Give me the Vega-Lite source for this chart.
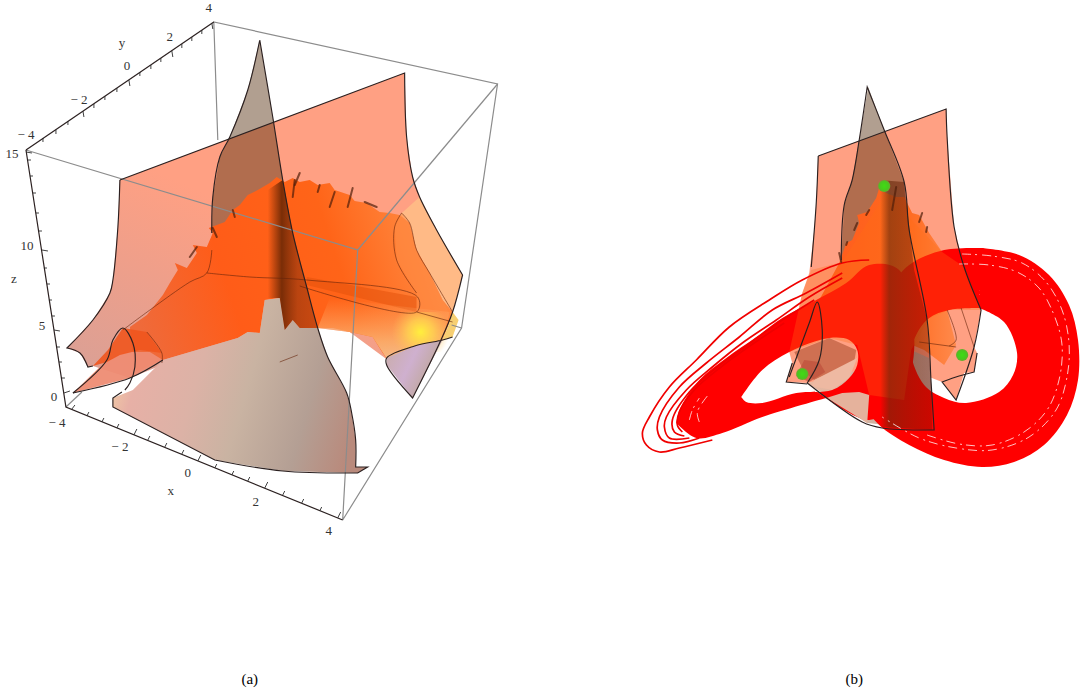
{"$schema":"https://vega.github.io/schema/vega-lite/v6.json","width":1080,"height":696,"autosize":{"type":"fit","contains":"padding"},"padding":0,"background":"white","view":{"stroke":null},
"datasets":{
"polys":[
{"p":"a_sal","i":0,"x":120,"y":180},{"p":"a_sal","i":1,"x":405,"y":73},{"p":"a_sal","i":2,"x":407,"y":137},{"p":"a_sal","i":3,"x":413,"y":177},{"p":"a_sal","i":4,"x":420,"y":197},{"p":"a_sal","i":5,"x":437,"y":230},{"p":"a_sal","i":6,"x":463,"y":275},{"p":"a_sal","i":7,"x":453,"y":312},{"p":"a_sal","i":8,"x":440,"y":343},{"p":"a_sal","i":9,"x":388,"y":360},{"p":"a_sal","i":10,"x":350,"y":332},{"p":"a_sal","i":11,"x":318,"y":328},{"p":"a_sal","i":12,"x":200,"y":350},{"p":"a_sal","i":13,"x":130,"y":378},{"p":"a_sal","i":14,"x":93,"y":366},{"p":"a_sal","i":15,"x":88,"y":367},{"p":"a_sal","i":16,"x":80,"y":353},{"p":"a_sal","i":17,"x":67,"y":348},{"p":"a_sal","i":18,"x":93,"y":320},{"p":"a_sal","i":19,"x":110,"y":293},{"p":"a_sal","i":20,"x":113,"y":280},{"p":"a_sal","i":21,"x":118,"y":227},
{"p":"a_tip","i":0,"x":260,"y":40},{"p":"a_tip","i":1,"x":273,"y":117},{"p":"a_tip","i":2,"x":283,"y":180},{"p":"a_tip","i":3,"x":288,"y":240},{"p":"a_tip","i":4,"x":240,"y":240},{"p":"a_tip","i":5,"x":212,"y":233},{"p":"a_tip","i":6,"x":213,"y":197},{"p":"a_tip","i":7,"x":220,"y":157},{"p":"a_tip","i":8,"x":230,"y":137},{"p":"a_tip","i":9,"x":248,"y":90},
{"p":"a_peach","i":0,"x":400,"y":215},{"p":"a_peach","i":1,"x":420,"y":197},{"p":"a_peach","i":2,"x":437,"y":230},{"p":"a_peach","i":3,"x":463,"y":275},{"p":"a_peach","i":4,"x":453,"y":312},{"p":"a_peach","i":5,"x":443,"y":300},{"p":"a_peach","i":6,"x":430,"y":273},{"p":"a_peach","i":7,"x":417,"y":250},{"p":"a_peach","i":8,"x":410,"y":223},
{"p":"a_or","i":0,"x":130,"y":327},{"p":"a_or","i":1,"x":147,"y":315},{"p":"a_or","i":2,"x":163,"y":295},{"p":"a_or","i":3,"x":170,"y":283},{"p":"a_or","i":4,"x":178,"y":270},{"p":"a_or","i":5,"x":175,"y":263},{"p":"a_or","i":6,"x":187,"y":268},{"p":"a_or","i":7,"x":197,"y":253},{"p":"a_or","i":8,"x":193,"y":245},{"p":"a_or","i":9,"x":207,"y":247},{"p":"a_or","i":10,"x":213,"y":233},{"p":"a_or","i":11,"x":209,"y":228},{"p":"a_or","i":12,"x":225,"y":222},{"p":"a_or","i":13,"x":233,"y":210},{"p":"a_or","i":14,"x":240,"y":205},{"p":"a_or","i":15,"x":248,"y":195},{"p":"a_or","i":16,"x":258,"y":190},{"p":"a_or","i":17,"x":270,"y":183},{"p":"a_or","i":18,"x":277,"y":177},{"p":"a_or","i":19,"x":285,"y":182},{"p":"a_or","i":20,"x":293,"y":178},{"p":"a_or","i":21,"x":300,"y":182},{"p":"a_or","i":22,"x":310,"y":180},{"p":"a_or","i":23,"x":318,"y":185},{"p":"a_or","i":24,"x":330,"y":183},{"p":"a_or","i":25,"x":335,"y":190},{"p":"a_or","i":26,"x":350,"y":195},{"p":"a_or","i":27,"x":355,"y":201},{"p":"a_or","i":28,"x":367,"y":203},{"p":"a_or","i":29,"x":380,"y":212},{"p":"a_or","i":30,"x":390,"y":213},{"p":"a_or","i":31,"x":400,"y":215},{"p":"a_or","i":32,"x":410,"y":223},{"p":"a_or","i":33,"x":417,"y":250},{"p":"a_or","i":34,"x":430,"y":273},{"p":"a_or","i":35,"x":443,"y":300},{"p":"a_or","i":36,"x":453,"y":312},{"p":"a_or","i":37,"x":449,"y":325},{"p":"a_or","i":38,"x":443,"y":340},{"p":"a_or","i":39,"x":420,"y":345},{"p":"a_or","i":40,"x":400,"y":350},{"p":"a_or","i":41,"x":388,"y":360},{"p":"a_or","i":42,"x":383,"y":353},{"p":"a_or","i":43,"x":373,"y":337},{"p":"a_or","i":44,"x":350,"y":332},{"p":"a_or","i":45,"x":333,"y":328},{"p":"a_or","i":46,"x":318,"y":328},{"p":"a_or","i":47,"x":300,"y":328},{"p":"a_or","i":48,"x":293,"y":320},{"p":"a_or","i":49,"x":285,"y":330},{"p":"a_or","i":50,"x":280,"y":298},{"p":"a_or","i":51,"x":265,"y":300},{"p":"a_or","i":52,"x":260,"y":333},{"p":"a_or","i":53,"x":248,"y":332},{"p":"a_or","i":54,"x":238,"y":338},{"p":"a_or","i":55,"x":163,"y":360},{"p":"a_or","i":56,"x":135,"y":372},
{"p":"a_lobe","i":0,"x":73,"y":393},{"p":"a_lobe","i":1,"x":107,"y":360},{"p":"a_lobe","i":2,"x":125,"y":352},{"p":"a_lobe","i":3,"x":150,"y":352},{"p":"a_lobe","i":4,"x":163,"y":360},{"p":"a_lobe","i":5,"x":130,"y":378},
{"p":"a_lobe2","i":0,"x":93,"y":366},{"p":"a_lobe2","i":1,"x":108,"y":350},{"p":"a_lobe2","i":2,"x":123,"y":328},{"p":"a_lobe2","i":3,"x":147,"y":332},{"p":"a_lobe2","i":4,"x":162,"y":353},{"p":"a_lobe2","i":5,"x":140,"y":350},{"p":"a_lobe2","i":6,"x":120,"y":355},{"p":"a_lobe2","i":7,"x":107,"y":362},
{"p":"a_band","i":0,"x":307,"y":277},{"p":"a_band","i":1,"x":417,"y":297},{"p":"a_band","i":2,"x":417,"y":312},{"p":"a_band","i":3,"x":307,"y":285},
{"p":"a_light","i":0,"x":402,"y":213},{"p":"a_light","i":1,"x":395,"y":227},{"p":"a_light","i":2,"x":397,"y":260},{"p":"a_light","i":3,"x":417,"y":293},{"p":"a_light","i":4,"x":417,"y":312},{"p":"a_light","i":5,"x":453,"y":320},{"p":"a_light","i":6,"x":443,"y":300},{"p":"a_light","i":7,"x":430,"y":273},{"p":"a_light","i":8,"x":417,"y":250},{"p":"a_light","i":9,"x":410,"y":223},
{"p":"a_fade","i":0,"x":318,"y":328},{"p":"a_fade","i":1,"x":330,"y":298},{"p":"a_fade","i":2,"x":450,"y":312},{"p":"a_fade","i":3,"x":443,"y":340},{"p":"a_fade","i":4,"x":388,"y":360},{"p":"a_fade","i":5,"x":373,"y":337},{"p":"a_fade","i":6,"x":350,"y":332},
{"p":"a_yel","i":0,"x":392,"y":312},{"p":"a_yel","i":1,"x":450,"y":312},{"p":"a_yel","i":2,"x":450,"y":352},{"p":"a_yel","i":3,"x":392,"y":352},
{"p":"a_corner","i":0,"x":453,"y":312},{"p":"a_corner","i":1,"x":459,"y":320},{"p":"a_corner","i":2,"x":453,"y":337},{"p":"a_corner","i":3,"x":443,"y":340},{"p":"a_corner","i":4,"x":449,"y":325},
{"p":"a_tri","i":0,"x":387,"y":358},{"p":"a_tri","i":1,"x":387,"y":365},{"p":"a_tri","i":2,"x":413,"y":398},{"p":"a_tri","i":3,"x":443,"y":340},{"p":"a_tri","i":4,"x":415,"y":346},
{"p":"a_bot","i":0,"x":133,"y":390},{"p":"a_bot","i":1,"x":113,"y":398},{"p":"a_bot","i":2,"x":113,"y":407},{"p":"a_bot","i":3,"x":215,"y":460},{"p":"a_bot","i":4,"x":283,"y":471},{"p":"a_bot","i":5,"x":358,"y":473},{"p":"a_bot","i":6,"x":368,"y":467},{"p":"a_bot","i":7,"x":356,"y":467},{"p":"a_bot","i":8,"x":356,"y":440},{"p":"a_bot","i":9,"x":352,"y":413},{"p":"a_bot","i":10,"x":347,"y":393},{"p":"a_bot","i":11,"x":328,"y":357},{"p":"a_bot","i":12,"x":318,"y":328},{"p":"a_bot","i":13,"x":300,"y":328},{"p":"a_bot","i":14,"x":293,"y":320},{"p":"a_bot","i":15,"x":285,"y":330},{"p":"a_bot","i":16,"x":280,"y":298},{"p":"a_bot","i":17,"x":265,"y":300},{"p":"a_bot","i":18,"x":260,"y":333},{"p":"a_bot","i":19,"x":248,"y":332},{"p":"a_bot","i":20,"x":238,"y":338},{"p":"a_bot","i":21,"x":163,"y":360},
{"p":"a_dark","i":0,"x":283,"y":180},{"p":"a_dark","i":1,"x":293,"y":233},{"p":"a_dark","i":2,"x":307,"y":287},{"p":"a_dark","i":3,"x":318,"y":328},{"p":"a_dark","i":4,"x":300,"y":328},{"p":"a_dark","i":5,"x":293,"y":320},{"p":"a_dark","i":6,"x":285,"y":330},{"p":"a_dark","i":7,"x":280,"y":298},{"p":"a_dark","i":8,"x":268,"y":298},{"p":"a_dark","i":9,"x":268,"y":190},
{"p":"b_sal","i":0,"x":819,"y":156},{"p":"b_sal","i":1,"x":947,"y":109},{"p":"b_sal","i":2,"x":948,"y":137},{"p":"b_sal","i":3,"x":955,"y":227},{"p":"b_sal","i":4,"x":965,"y":267},{"p":"b_sal","i":5,"x":982,"y":310},{"p":"b_sal","i":6,"x":975,"y":347},{"p":"b_sal","i":7,"x":978,"y":353},{"p":"b_sal","i":8,"x":975,"y":372},{"p":"b_sal","i":9,"x":965,"y":373},{"p":"b_sal","i":10,"x":957,"y":400},{"p":"b_sal","i":11,"x":943,"y":382},{"p":"b_sal","i":12,"x":925,"y":375},{"p":"b_sal","i":13,"x":850,"y":378},{"p":"b_sal","i":14,"x":808,"y":383},{"p":"b_sal","i":15,"x":787,"y":382},{"p":"b_sal","i":16,"x":793,"y":363},{"p":"b_sal","i":17,"x":790,"y":352},{"p":"b_sal","i":18,"x":803,"y":293},{"p":"b_sal","i":19,"x":810,"y":273},{"p":"b_sal","i":20,"x":815,"y":230},{"p":"b_sal","i":21,"x":817,"y":203},
{"p":"b_tip","i":0,"x":869,"y":87},{"p":"b_tip","i":1,"x":885,"y":130},{"p":"b_tip","i":2,"x":905,"y":182},{"p":"b_tip","i":3,"x":910,"y":260},{"p":"b_tip","i":4,"x":842,"y":260},{"p":"b_tip","i":5,"x":845,"y":205},{"p":"b_tip","i":6,"x":853,"y":180},{"p":"b_tip","i":7,"x":860,"y":140},
{"p":"b_or","i":0,"x":840,"y":263},{"p":"b_or","i":1,"x":847,"y":243},{"p":"b_or","i":2,"x":853,"y":240},{"p":"b_or","i":3,"x":860,"y":223},{"p":"b_or","i":4,"x":858,"y":215},{"p":"b_or","i":5,"x":868,"y":212},{"p":"b_or","i":6,"x":877,"y":198},{"p":"b_or","i":7,"x":880,"y":188},{"p":"b_or","i":8,"x":887,"y":193},{"p":"b_or","i":9,"x":897,"y":197},{"p":"b_or","i":10,"x":905,"y":197},{"p":"b_or","i":11,"x":913,"y":213},{"p":"b_or","i":12,"x":920,"y":215},{"p":"b_or","i":13,"x":930,"y":233},{"p":"b_or","i":14,"x":943,"y":252},{"p":"b_or","i":15,"x":948,"y":310},{"p":"b_or","i":16,"x":957,"y":345},{"p":"b_or","i":17,"x":945,"y":365},{"p":"b_or","i":18,"x":925,"y":350},{"p":"b_or","i":19,"x":913,"y":345},{"p":"b_or","i":20,"x":860,"y":345},{"p":"b_or","i":21,"x":820,"y":300},
{"p":"b_bot","i":0,"x":808,"y":383},{"p":"b_bot","i":1,"x":868,"y":423},{"p":"b_bot","i":2,"x":933,"y":430},{"p":"b_bot","i":3,"x":932,"y":383},{"p":"b_bot","i":4,"x":930,"y":358},{"p":"b_bot","i":5,"x":912,"y":350},{"p":"b_bot","i":6,"x":860,"y":370},
{"p":"b_lh","i":0,"x":795,"y":352},{"p":"b_lh","i":1,"x":830,"y":338},{"p":"b_lh","i":2,"x":857,"y":350},{"p":"b_lh","i":3,"x":855,"y":362},{"p":"b_lh","i":4,"x":815,"y":380},{"p":"b_lh","i":5,"x":805,"y":372},
{"p":"b_pale","i":0,"x":815,"y":380},{"p":"b_pale","i":1,"x":858,"y":358},{"p":"b_pale","i":2,"x":850,"y":378},{"p":"b_pale","i":3,"x":833,"y":390},{"p":"b_pale","i":4,"x":812,"y":386},
{"p":"b_lobe","i":0,"x":797,"y":376},{"p":"b_lobe","i":1,"x":805,"y":360},{"p":"b_lobe","i":2,"x":820,"y":362},{"p":"b_lobe","i":3,"x":826,"y":372},{"p":"b_lobe","i":4,"x":810,"y":382},
{"p":"b_wing","i":0,"x":677,"y":423},{"p":"b_wing","i":1,"x":697,"y":438},{"p":"b_wing","i":2,"x":723,"y":433},{"p":"b_wing","i":3,"x":763,"y":417},{"p":"b_wing","i":4,"x":827,"y":398},{"p":"b_wing","i":4.5,"x":827,"y":398},{"p":"b_wing","i":5,"x":870,"y":420},{"p":"b_wing","i":6,"x":900,"y":400},{"p":"b_wing","i":7,"x":915,"y":350},{"p":"b_wing","i":8,"x":900,"y":270},{"p":"b_wing","i":9,"x":870,"y":265},{"p":"b_wing","i":10,"x":847,"y":283},{"p":"b_wing","i":11,"x":817,"y":300},{"p":"b_wing","i":12,"x":783,"y":318},{"p":"b_wing","i":13,"x":757,"y":337},{"p":"b_wing","i":14,"x":727,"y":358},{"p":"b_wing","i":15,"x":700,"y":380},{"p":"b_wing","i":16,"x":680,"y":410},{"p":"b_wing","i":17,"x":677,"y":423},{"p":"b_wing","i":17.5,"x":677,"y":423},{"p":"b_wing","i":18,"x":742,"y":397},{"p":"b_wing","i":18.5,"x":742,"y":397},{"p":"b_wing","i":19,"x":763,"y":370},{"p":"b_wing","i":20,"x":790,"y":352},{"p":"b_wing","i":21,"x":830,"y":338},{"p":"b_wing","i":22,"x":850,"y":340},{"p":"b_wing","i":23,"x":858,"y":350},{"p":"b_wing","i":24,"x":858,"y":365},{"p":"b_wing","i":25,"x":850,"y":378},{"p":"b_wing","i":26,"x":833,"y":390},{"p":"b_wing","i":27,"x":797,"y":393},{"p":"b_wing","i":28,"x":763,"y":403},{"p":"b_wing","i":29,"x":747,"y":402},{"p":"b_wing","i":30,"x":742,"y":397},{"p":"b_wing","i":30.5,"x":742,"y":397},{"p":"b_wing","i":31,"x":677,"y":423},
{"p":"b_ring","i":0,"x":983,"y":248},{"p":"b_ring","i":1,"x":1020,"y":255},{"p":"b_ring","i":2,"x":1050,"y":275},{"p":"b_ring","i":3,"x":1070,"y":305},{"p":"b_ring","i":4,"x":1079,"y":340},{"p":"b_ring","i":5,"x":1079,"y":380},{"p":"b_ring","i":6,"x":1068,"y":415},{"p":"b_ring","i":7,"x":1045,"y":445},{"p":"b_ring","i":8,"x":1015,"y":462},{"p":"b_ring","i":9,"x":983,"y":467},{"p":"b_ring","i":10,"x":945,"y":460},{"p":"b_ring","i":11,"x":910,"y":445},{"p":"b_ring","i":12,"x":880,"y":425},{"p":"b_ring","i":13,"x":865,"y":405},{"p":"b_ring","i":14,"x":860,"y":385},{"p":"b_ring","i":15,"x":862,"y":350},{"p":"b_ring","i":16,"x":870,"y":320},{"p":"b_ring","i":17,"x":887,"y":293},{"p":"b_ring","i":18,"x":910,"y":265},{"p":"b_ring","i":19,"x":945,"y":250},{"p":"b_ring","i":20,"x":983,"y":248},{"p":"b_ring","i":20.5,"x":983,"y":248},{"p":"b_ring","i":21,"x":980,"y":308},{"p":"b_ring","i":21.5,"x":980,"y":308},{"p":"b_ring","i":22,"x":950,"y":310},{"p":"b_ring","i":23,"x":930,"y":318},{"p":"b_ring","i":24,"x":917,"y":335},{"p":"b_ring","i":25,"x":912,"y":353},{"p":"b_ring","i":26,"x":925,"y":385},{"p":"b_ring","i":27,"x":945,"y":398},{"p":"b_ring","i":28,"x":967,"y":403},{"p":"b_ring","i":29,"x":1000,"y":392},{"p":"b_ring","i":30,"x":1014,"y":375},{"p":"b_ring","i":31,"x":1018,"y":353},{"p":"b_ring","i":32,"x":1005,"y":322},{"p":"b_ring","i":33,"x":980,"y":308},{"p":"b_ring","i":33.5,"x":980,"y":308},{"p":"b_ring","i":34,"x":983,"y":248},
{"p":"b_tint","i":0,"x":812,"y":270},{"p":"b_tint","i":1,"x":843,"y":262},{"p":"b_tint","i":2,"x":887,"y":193},{"p":"b_tint","i":3,"x":943,"y":252},{"p":"b_tint","i":4,"x":965,"y":267},{"p":"b_tint","i":5,"x":982,"y":310},{"p":"b_tint","i":6,"x":950,"y":310},{"p":"b_tint","i":7,"x":930,"y":318},{"p":"b_tint","i":8,"x":912,"y":350},{"p":"b_tint","i":9,"x":905,"y":400},{"p":"b_tint","i":10,"x":870,"y":395},{"p":"b_tint","i":11,"x":858,"y":345},{"p":"b_tint","i":12,"x":830,"y":338},{"p":"b_tint","i":13,"x":790,"y":352},{"p":"b_tint","i":14,"x":803,"y":293},
{"p":"b_front","i":0,"x":810,"y":387},{"p":"b_front","i":1,"x":868,"y":423},{"p":"b_front","i":2,"x":870,"y":395},{"p":"b_front","i":3,"x":860,"y":392},{"p":"b_front","i":4,"x":843,"y":393},{"p":"b_front","i":5,"x":827,"y":398},
{"p":"b_dark","i":0,"x":880,"y":180},{"p":"b_dark","i":1,"x":905,"y":182},{"p":"b_dark","i":2,"x":915,"y":270},{"p":"b_dark","i":3,"x":928,"y":320},{"p":"b_dark","i":4,"x":932,"y":383},{"p":"b_dark","i":5,"x":933,"y":430},{"p":"b_dark","i":6,"x":883,"y":427},{"p":"b_dark","i":7,"x":868,"y":423},{"p":"b_dark","i":8,"x":870,"y":395},{"p":"b_dark","i":9,"x":880,"y":340}
],
"black":[
{"p":"s1","i":0,"x":120,"y":180},{"p":"s1","i":1,"x":405,"y":73},{"p":"s1","i":1.5,"x":405,"y":73},{"p":"s1","i":2,"x":407,"y":137},{"p":"s1","i":3,"x":413,"y":177},{"p":"s1","i":4,"x":420,"y":197},{"p":"s1","i":5,"x":437,"y":230},{"p":"s1","i":6,"x":463,"y":275},{"p":"s1","i":6.5,"x":463,"y":275},{"p":"s1","i":7,"x":453,"y":312},{"p":"s1","i":8,"x":440,"y":343},{"p":"s1","i":9,"x":413,"y":398},{"p":"s1","i":9.5,"x":413,"y":398},{"p":"s1","i":10,"x":387,"y":365},{"p":"s1","i":11,"x":387,"y":358},{"p":"s1","i":12,"x":415,"y":346},{"p":"s1","i":13,"x":443,"y":340},{"p":"s1","i":14,"x":453,"y":337},
{"p":"s2","i":0,"x":120,"y":180},{"p":"s2","i":1,"x":118,"y":227},{"p":"s2","i":2,"x":113,"y":280},{"p":"s2","i":3,"x":110,"y":293},{"p":"s2","i":4,"x":93,"y":320},{"p":"s2","i":5,"x":67,"y":348},{"p":"s2","i":5.5,"x":67,"y":348},{"p":"s2","i":6,"x":80,"y":353},{"p":"s2","i":7,"x":88,"y":367},{"p":"s2","i":7.5,"x":88,"y":367},{"p":"s2","i":8,"x":93,"y":366},
{"p":"s3","i":0,"x":212,"y":233},{"p":"s3","i":1,"x":213,"y":197},{"p":"s3","i":2,"x":220,"y":157},{"p":"s3","i":3,"x":230,"y":137},{"p":"s3","i":4,"x":248,"y":90},{"p":"s3","i":5,"x":260,"y":40},{"p":"s3","i":5.5,"x":260,"y":40},{"p":"s3","i":6,"x":273,"y":117},{"p":"s3","i":7,"x":283,"y":180},{"p":"s3","i":8,"x":293,"y":233},{"p":"s3","i":9,"x":307,"y":287},{"p":"s3","i":10,"x":318,"y":328},{"p":"s3","i":11,"x":328,"y":357},{"p":"s3","i":12,"x":347,"y":393},{"p":"s3","i":13,"x":352,"y":413},{"p":"s3","i":14,"x":356,"y":440},{"p":"s3","i":15,"x":356,"y":467},{"p":"s3","i":15.5,"x":356,"y":467},{"p":"s3","i":16,"x":368,"y":467},{"p":"s3","i":16.5,"x":368,"y":467},{"p":"s3","i":17,"x":358,"y":473},{"p":"s3","i":17.5,"x":358,"y":473},{"p":"s3","i":18,"x":283,"y":471},{"p":"s3","i":19,"x":215,"y":460},{"p":"s3","i":19.5,"x":215,"y":460},{"p":"s3","i":20,"x":113,"y":407},{"p":"s3","i":20.5,"x":113,"y":407},{"p":"s3","i":21,"x":113,"y":398},{"p":"s3","i":21.5,"x":113,"y":398},{"p":"s3","i":22,"x":122,"y":392},
{"p":"s4","i":0,"x":73,"y":393},{"p":"s4","i":1,"x":107,"y":360},{"p":"s4","i":2,"x":113,"y":340},{"p":"s4","i":3,"x":123,"y":328},{"p":"s4","i":4,"x":133,"y":343},{"p":"s4","i":5,"x":135,"y":367},{"p":"s4","i":6,"x":130,"y":383},{"p":"s4","i":7,"x":125,"y":390},
{"p":"s5","i":0,"x":73,"y":393},{"p":"s5","i":1,"x":130,"y":378},{"p":"s5","i":2,"x":163,"y":360},
{"p":"b1","i":0,"x":819,"y":156},{"p":"b1","i":1,"x":947,"y":109},{"p":"b1","i":1.5,"x":947,"y":109},{"p":"b1","i":2,"x":948,"y":137},{"p":"b1","i":3,"x":955,"y":227},{"p":"b1","i":4,"x":965,"y":267},{"p":"b1","i":5,"x":982,"y":310},{"p":"b1","i":5.5,"x":982,"y":310},{"p":"b1","i":6,"x":975,"y":347},{"p":"b1","i":7,"x":957,"y":400},{"p":"b1","i":7.5,"x":957,"y":400},{"p":"b1","i":8,"x":943,"y":382},{"p":"b1","i":8.5,"x":943,"y":382},{"p":"b1","i":9,"x":960,"y":376},{"p":"b1","i":10,"x":975,"y":372},{"p":"b1","i":10.5,"x":975,"y":372},{"p":"b1","i":11,"x":978,"y":353},
{"p":"b2","i":0,"x":819,"y":156},{"p":"b2","i":1,"x":817,"y":203},{"p":"b2","i":2,"x":812,"y":267},
{"p":"b3","i":0,"x":842,"y":260},{"p":"b3","i":1,"x":845,"y":205},{"p":"b3","i":2,"x":853,"y":180},{"p":"b3","i":3,"x":860,"y":140},{"p":"b3","i":4,"x":868,"y":87},{"p":"b3","i":4.5,"x":868,"y":87},{"p":"b3","i":5,"x":885,"y":130},{"p":"b3","i":6,"x":905,"y":182},{"p":"b3","i":7,"x":910,"y":230},{"p":"b3","i":8,"x":928,"y":320},{"p":"b3","i":9,"x":932,"y":383},{"p":"b3","i":10,"x":935,"y":430},{"p":"b3","i":10.5,"x":935,"y":430},{"p":"b3","i":11,"x":883,"y":428},{"p":"b3","i":12,"x":863,"y":422},{"p":"b3","i":13,"x":808,"y":383},{"p":"b3","i":13.5,"x":808,"y":383},{"p":"b3","i":14,"x":820,"y":360},{"p":"b3","i":15,"x":823,"y":330},{"p":"b3","i":16,"x":818,"y":302},{"p":"b3","i":17,"x":810,"y":323},{"p":"b3","i":18,"x":790,"y":377},
{"p":"b4","i":0,"x":793,"y":363},{"p":"b4","i":1,"x":787,"y":382},{"p":"b4","i":1.5,"x":787,"y":382},{"p":"b4","i":2,"x":808,"y":384}
],
"axis":[
{"p":"a1","i":0,"x":26,"y":150},{"p":"a1","i":1,"x":66,"y":407},{"p":"a1","i":2,"x":343,"y":520},
{"p":"a2","i":0,"x":26,"y":150},{"p":"a2","i":1,"x":214,"y":22}
],
"box":[
{"p":"g1","i":0,"x":26,"y":150},{"p":"g1","i":1,"x":358,"y":250},{"p":"g1","i":2,"x":343,"y":520},{"p":"g1","i":3,"x":462,"y":328},{"p":"g1","i":4,"x":498,"y":84},{"p":"g1","i":5,"x":214,"y":22},{"p":"g1","i":6,"x":218,"y":140},
{"p":"g2","i":0,"x":358,"y":250},{"p":"g2","i":1,"x":498,"y":84},
{"p":"g3","i":0,"x":462,"y":328},{"p":"g3","i":1,"x":452,"y":325},
{"p":"g4","i":0,"x":66,"y":407},{"p":"g4","i":1,"x":82,"y":392}
],
"thin":[
{"p":"c1","i":0,"x":207,"y":273},{"p":"c1","i":1,"x":250,"y":277},{"p":"c1","i":2,"x":307,"y":280},{"p":"c1","i":3,"x":418,"y":297},{"p":"c1","i":4,"x":417,"y":312},{"p":"c1","i":5,"x":300,"y":286},
{"p":"c2","i":0,"x":212,"y":250},{"p":"c2","i":1,"x":207,"y":273},{"p":"c2","i":2,"x":190,"y":282},{"p":"c2","i":3,"x":150,"y":310},{"p":"c2","i":4,"x":123,"y":330},
{"p":"c3","i":0,"x":402,"y":213},{"p":"c3","i":1,"x":395,"y":227},{"p":"c3","i":2,"x":397,"y":260},{"p":"c3","i":3,"x":417,"y":293},
{"p":"c4","i":0,"x":402,"y":213},{"p":"c4","i":1,"x":410,"y":223},{"p":"c4","i":2,"x":417,"y":250},{"p":"c4","i":3,"x":430,"y":273},{"p":"c4","i":4,"x":453,"y":312},
{"p":"c5","i":0,"x":417,"y":312},{"p":"c5","i":1,"x":453,"y":322},
{"p":"c6","i":0,"x":147,"y":332},{"p":"c6","i":1,"x":162,"y":353},{"p":"c6","i":2,"x":162,"y":363},
{"p":"c7","i":0,"x":280,"y":362},{"p":"c7","i":1,"x":298,"y":355},
{"p":"c8","i":0,"x":948,"y":310},{"p":"c8","i":1,"x":957,"y":340},{"p":"c8","i":2,"x":950,"y":346},
{"p":"c9","i":0,"x":962,"y":308},{"p":"c9","i":1,"x":975,"y":347},
{"p":"c10","i":0,"x":920,"y":342},{"p":"c10","i":1,"x":957,"y":347}
],
"spike":[
{"p":"k1","i":0,"x":295,"y":180},{"p":"k1","i":1,"x":293,"y":197},
{"p":"k2","i":0,"x":300,"y":173},{"p":"k2","i":1,"x":295,"y":185},
{"p":"k3","i":0,"x":320,"y":185},{"p":"k3","i":1,"x":318,"y":192},
{"p":"k4","i":0,"x":335,"y":192},{"p":"k4","i":1,"x":330,"y":207},
{"p":"k5","i":0,"x":353,"y":188},{"p":"k5","i":1,"x":348,"y":207},
{"p":"k6","i":0,"x":365,"y":202},{"p":"k6","i":1,"x":377,"y":207},
{"p":"k7","i":0,"x":197,"y":247},{"p":"k7","i":1,"x":190,"y":257},
{"p":"k8","i":0,"x":213,"y":228},{"p":"k8","i":1,"x":217,"y":237},
{"p":"k9","i":0,"x":233,"y":210},{"p":"k9","i":1,"x":235,"y":217},
{"p":"m1","i":0,"x":897,"y":187},{"p":"m1","i":1,"x":893,"y":210},
{"p":"m2","i":0,"x":923,"y":213},{"p":"m2","i":1,"x":920,"y":222},
{"p":"m3","i":0,"x":928,"y":227},{"p":"m3","i":1,"x":927,"y":232},
{"p":"m4","i":0,"x":870,"y":210},{"p":"m4","i":1,"x":867,"y":215},
{"p":"m5","i":0,"x":858,"y":223},{"p":"m5","i":1,"x":855,"y":230},
{"p":"m6","i":0,"x":848,"y":242},{"p":"m6","i":1,"x":847,"y":245},
{"p":"m7","i":0,"x":840,"y":253},{"p":"m7","i":1,"x":842,"y":262}
],
"red":[
{"p":"L1","i":0,"x":713,"y":440},{"p":"L1","i":1,"x":680,"y":448},{"p":"L1","i":2,"x":660,"y":452},{"p":"L1","i":3,"x":647,"y":445},{"p":"L1","i":4,"x":643,"y":433},{"p":"L1","i":5,"x":650,"y":417},{"p":"L1","i":6,"x":670,"y":387},{"p":"L1","i":7,"x":697,"y":360},{"p":"L1","i":8,"x":730,"y":327},{"p":"L1","i":9,"x":770,"y":300},{"p":"L1","i":10,"x":803,"y":280},{"p":"L1","i":11,"x":843,"y":263},{"p":"L1","i":12,"x":870,"y":260},
{"p":"L2","i":0,"x":700,"y":438},{"p":"L2","i":1,"x":680,"y":443},{"p":"L2","i":2,"x":663,"y":440},{"p":"L2","i":3,"x":658,"y":430},{"p":"L2","i":4,"x":660,"y":417},{"p":"L2","i":5,"x":680,"y":387},{"p":"L2","i":6,"x":707,"y":363},{"p":"L2","i":7,"x":740,"y":337},{"p":"L2","i":8,"x":773,"y":310},{"p":"L2","i":9,"x":807,"y":293},{"p":"L2","i":10,"x":843,"y":273},
{"p":"L3","i":0,"x":690,"y":438},{"p":"L3","i":1,"x":670,"y":438},{"p":"L3","i":2,"x":665,"y":427},{"p":"L3","i":3,"x":667,"y":417},{"p":"L3","i":4,"x":687,"y":390},{"p":"L3","i":5,"x":713,"y":367},{"p":"L3","i":6,"x":743,"y":343},{"p":"L3","i":7,"x":777,"y":320},{"p":"L3","i":8,"x":810,"y":297},{"p":"L3","i":9,"x":843,"y":278},
{"p":"L4","i":0,"x":685,"y":436},{"p":"L4","i":1,"x":675,"y":432},{"p":"L4","i":2,"x":673,"y":420},{"p":"L4","i":3,"x":690,"y":392},{"p":"L4","i":4,"x":718,"y":367},{"p":"L4","i":5,"x":748,"y":345},{"p":"L4","i":6,"x":780,"y":322},{"p":"L4","i":7,"x":815,"y":300},
{"p":"L5","i":0,"x":683,"y":432},{"p":"L5","i":1,"x":678,"y":425},{"p":"L5","i":2,"x":680,"y":412},{"p":"L5","i":3,"x":695,"y":390},{"p":"L5","i":4,"x":723,"y":366},{"p":"L5","i":5,"x":752,"y":345},{"p":"L5","i":6,"x":785,"y":323}
],
"white":[
{"p":"w1","i":0,"x":963,"y":254},{"p":"w1","i":1,"x":993,"y":256},{"p":"w1","i":2,"x":1023,"y":263},{"p":"w1","i":3,"x":1047,"y":282},{"p":"w1","i":4,"x":1063,"y":310},{"p":"w1","i":5,"x":1070,"y":343},{"p":"w1","i":6,"x":1068,"y":377},{"p":"w1","i":7,"x":1057,"y":410},{"p":"w1","i":8,"x":1030,"y":437},{"p":"w1","i":9,"x":993,"y":450},{"p":"w1","i":10,"x":957,"y":448},{"p":"w1","i":11,"x":920,"y":438},{"p":"w1","i":12,"x":883,"y":417},
{"p":"w2","i":0,"x":960,"y":264},{"p":"w2","i":1,"x":990,"y":265},{"p":"w2","i":2,"x":1018,"y":272},{"p":"w2","i":3,"x":1040,"y":288},{"p":"w2","i":4,"x":1055,"y":315},{"p":"w2","i":5,"x":1063,"y":345},{"p":"w2","i":6,"x":1060,"y":380},{"p":"w2","i":7,"x":1048,"y":410},{"p":"w2","i":8,"x":1025,"y":432},{"p":"w2","i":9,"x":993,"y":445},{"p":"w2","i":10,"x":960,"y":444},{"p":"w2","i":11,"x":925,"y":434},
{"p":"w3","i":0,"x":690,"y":420},{"p":"w3","i":1,"x":693,"y":410},{"p":"w3","i":2,"x":700,"y":398},
{"p":"w4","i":0,"x":700,"y":422},{"p":"w4","i":1,"x":698,"y":412},{"p":"w4","i":2,"x":708,"y":396}
],
"ticks":[
{"x":26,"y":152,"x2":32,"y2":153},{"x":28,"y":160,"x2":31,"y2":160},{"x":30,"y":176,"x2":33,"y2":176},{"x":33,"y":193,"x2":36,"y2":193},{"x":36,"y":213,"x2":39,"y2":213},{"x":39,"y":231,"x2":42,"y2":231},{"x":42,"y":250,"x2":48,"y2":251},{"x":44,"y":268,"x2":47,"y2":268},{"x":47,"y":284,"x2":50,"y2":284},{"x":49,"y":300,"x2":52,"y2":300},{"x":52,"y":316,"x2":55,"y2":316},{"x":54,"y":330,"x2":60,"y2":331},{"x":57,"y":347,"x2":60,"y2":347},{"x":59,"y":362,"x2":62,"y2":362},{"x":62,"y":378,"x2":65,"y2":378},{"x":64,"y":393,"x2":70,"y2":391},
{"x":43,"y":138,"x2":43,"y2":142},{"x":56,"y":130,"x2":56,"y2":134},{"x":68,"y":121,"x2":68,"y2":125},{"x":83,"y":111,"x2":84,"y2":117},{"x":94,"y":104,"x2":94,"y2":108},{"x":105,"y":96,"x2":105,"y2":100},{"x":117,"y":88,"x2":117,"y2":92},{"x":129,"y":80,"x2":130,"y2":86},{"x":140,"y":72,"x2":140,"y2":76},{"x":151,"y":65,"x2":151,"y2":69},{"x":161,"y":58,"x2":161,"y2":62},{"x":172,"y":51,"x2":173,"y2":57},{"x":182,"y":44,"x2":182,"y2":48},{"x":192,"y":37,"x2":192,"y2":41},{"x":202,"y":30,"x2":202,"y2":34},{"x":212,"y":23,"x2":213,"y2":29},
{"x":72,"y":409,"x2":75,"y2":405},{"x":87,"y":416,"x2":89,"y2":412},{"x":102,"y":422,"x2":104,"y2":418},{"x":117,"y":428,"x2":119,"y2":424},{"x":134,"y":435,"x2":137,"y2":429},{"x":148,"y":440,"x2":150,"y2":436},{"x":165,"y":447,"x2":167,"y2":443},{"x":182,"y":454,"x2":184,"y2":450},{"x":198,"y":461,"x2":201,"y2":455},{"x":215,"y":468,"x2":217,"y2":464},{"x":232,"y":475,"x2":234,"y2":471},{"x":248,"y":481,"x2":250,"y2":477},{"x":265,"y":488,"x2":268,"y2":482},{"x":283,"y":495,"x2":285,"y2":491},{"x":302,"y":503,"x2":304,"y2":499},{"x":320,"y":511,"x2":322,"y2":507},{"x":338,"y":518,"x2":341,"y2":512}
],
"labels":[
{"x":122,"y":43,"t":"y"},{"x":170,"y":37,"t":"2"},{"x":127,"y":66,"t":"0"},{"x":79,"y":100,"t":"− 2"},{"x":26,"y":135,"t":"− 4"},{"x":209,"y":8,"t":"4"},{"x":12,"y":154,"t":"15"},{"x":27,"y":246,"t":"10"},{"x":14,"y":279,"t":"z"},{"x":42,"y":326,"t":"5"},{"x":54,"y":397,"t":"0"},{"x":57,"y":423,"t":"− 4"},{"x":120,"y":447,"t":"− 2"},{"x":188,"y":473,"t":"0"},{"x":171,"y":491,"t":"x"},{"x":256,"y":502,"t":"2"},{"x":329,"y":531,"t":"4"}
],
"captions":[{"x":250,"y":679,"t":"(a)"},{"x":855,"y":679,"t":"(b)"}],
"dots":[{"x":885,"y":186},{"x":803,"y":374},{"x":963,"y":355}]
},
"encoding":{
"x":{"field":"x","type":"quantitative","scale":{"domain":[0,1080],"nice":false,"zero":false},"axis":null},
"y":{"field":"y","type":"quantitative","scale":{"domain":[696,0],"nice":false,"zero":false},"axis":null}
},
"layer":[
{"data":{"name":"polys"},"transform":[{"filter":"datum.p=='a_sal'"}],"mark":{"type":"line","strokeWidth":0,"fill":{"gradient":"linear","x1":0,"y1":1,"x2":0.6,"y2":0,"stops":[{"offset":0,"color":"#d8a096"},{"offset":0.35,"color":"#ef9f8a"},{"offset":0.6,"color":"#ffa083"},{"offset":1,"color":"#ffa083"}]}},"encoding":{"order":{"field":"i","type":"quantitative"}}},
{"data":{"name":"polys"},"transform":[{"filter":"datum.p=='a_tip'"}],"mark":{"type":"line","strokeWidth":0,"fill":"rgba(90,50,20,0.47)"},"encoding":{"order":{"field":"i","type":"quantitative"}}},
{"data":{"name":"polys"},"transform":[{"filter":"datum.p=='a_peach'"}],"mark":{"type":"line","strokeWidth":0,"fill":"rgba(255,190,135,0.85)"},"encoding":{"order":{"field":"i","type":"quantitative"}}},
{"data":{"name":"polys"},"transform":[{"filter":"datum.p=='a_or'"}],"mark":{"type":"line","strokeWidth":0,"fill":{"gradient":"linear","x1":0,"y1":0.6,"x2":1,"y2":0.4,"stops":[{"offset":0,"color":"#ef6a3a"},{"offset":0.3,"color":"#ff5c18"},{"offset":0.65,"color":"#ff6418"},{"offset":1,"color":"#ff9048"}]}},"encoding":{"order":{"field":"i","type":"quantitative"}}},
{"data":{"name":"polys"},"transform":[{"filter":"datum.p=='a_lobe'"}],"mark":{"type":"line","strokeWidth":0,"fill":"rgba(238,140,115,0.95)"},"encoding":{"order":{"field":"i","type":"quantitative"}}},
{"data":{"name":"polys"},"transform":[{"filter":"datum.p=='a_lobe2'"}],"mark":{"type":"line","strokeWidth":0,"fill":"rgba(240,85,30,0.9)"},"encoding":{"order":{"field":"i","type":"quantitative"}}},
{"data":{"name":"polys"},"transform":[{"filter":"datum.p=='a_band'"}],"mark":{"type":"line","strokeWidth":0,"fill":"rgba(225,80,10,0.5)"},"encoding":{"order":{"field":"i","type":"quantitative"}}},
{"data":{"name":"polys"},"transform":[{"filter":"datum.p=='a_light'"}],"mark":{"type":"line","strokeWidth":0,"fill":"rgba(255,140,70,0.55)"},"encoding":{"order":{"field":"i","type":"quantitative"}}},
{"data":{"name":"polys"},"transform":[{"filter":"datum.p=='a_fade'"}],"mark":{"type":"line","strokeWidth":0,"fill":{"gradient":"linear","x1":0,"y1":0,"x2":0,"y2":1,"stops":[{"offset":0,"color":"rgba(255,170,100,0)"},{"offset":0.7,"color":"rgba(250,175,110,0.9)"},{"offset":1,"color":"rgba(245,190,140,0.95)"}]}},"encoding":{"order":{"field":"i","type":"quantitative"}}},
{"data":{"name":"polys"},"transform":[{"filter":"datum.p=='a_yel'"}],"mark":{"type":"line","strokeWidth":0,"fill":{"gradient":"radial","x1":0.5,"y1":0.5,"r1":0,"x2":0.5,"y2":0.5,"r2":0.5,"stops":[{"offset":0,"color":"rgba(255,240,60,1)"},{"offset":0.45,"color":"rgba(255,215,80,0.75)"},{"offset":1,"color":"rgba(255,190,90,0)"}]}},"encoding":{"order":{"field":"i","type":"quantitative"}}},
{"data":{"name":"polys"},"transform":[{"filter":"datum.p=='a_corner'"}],"mark":{"type":"line","strokeWidth":0,"fill":"#f7cf72"},"encoding":{"order":{"field":"i","type":"quantitative"}}},
{"data":{"name":"polys"},"transform":[{"filter":"datum.p=='a_tri'"}],"mark":{"type":"line","strokeWidth":0,"fill":{"gradient":"linear","x1":0,"y1":0,"x2":1,"y2":0.5,"stops":[{"offset":0,"color":"#c9aca6"},{"offset":0.5,"color":"#cfb0cf"},{"offset":1,"color":"#bba58f"}]}},"encoding":{"order":{"field":"i","type":"quantitative"}}},
{"data":{"name":"polys"},"transform":[{"filter":"datum.p=='a_bot'"}],"mark":{"type":"line","strokeWidth":0,"fill":{"gradient":"linear","x1":0,"y1":0.3,"x2":1,"y2":0.5,"stops":[{"offset":0,"color":"#f3d2a4"},{"offset":0.12,"color":"#e7b0a6"},{"offset":0.35,"color":"#dcb2a6"},{"offset":0.55,"color":"#c9b3a2"},{"offset":0.8,"color":"#b49f94"},{"offset":1,"color":"#b98a7c"}]}},"encoding":{"order":{"field":"i","type":"quantitative"}}},
{"data":{"name":"polys"},"transform":[{"filter":"datum.p=='a_dark'"}],"mark":{"type":"line","strokeWidth":0,"fill":{"gradient":"linear","x1":0,"y1":0,"x2":1,"y2":0,"stops":[{"offset":0,"color":"rgba(70,25,0,0)"},{"offset":0.28,"color":"rgba(70,25,0,0.72)"},{"offset":0.6,"color":"rgba(130,45,10,0.55)"},{"offset":1,"color":"rgba(150,50,10,0.5)"}]}},"encoding":{"order":{"field":"i","type":"quantitative"}}},
{"data":{"name":"polys"},"transform":[{"filter":"datum.p=='b_sal'"}],"mark":{"type":"line","strokeWidth":0,"fill":"#ffa083"},"encoding":{"order":{"field":"i","type":"quantitative"}}},
{"data":{"name":"polys"},"transform":[{"filter":"datum.p=='b_tip'"}],"mark":{"type":"line","strokeWidth":0,"fill":"rgba(90,50,20,0.47)"},"encoding":{"order":{"field":"i","type":"quantitative"}}},
{"data":{"name":"polys"},"transform":[{"filter":"datum.p=='b_or'"}],"mark":{"type":"line","strokeWidth":0,"fill":{"gradient":"linear","x1":0,"y1":0,"x2":1,"y2":0,"stops":[{"offset":0,"color":"#ff5a1c"},{"offset":0.65,"color":"#ff6a20"},{"offset":1,"color":"#ff8a4c"}]}},"encoding":{"order":{"field":"i","type":"quantitative"}}},
{"data":{"name":"polys"},"transform":[{"filter":"datum.p=='b_bot'"}],"mark":{"type":"line","strokeWidth":0,"fill":{"gradient":"linear","x1":0,"y1":0,"x2":1,"y2":0,"stops":[{"offset":0,"color":"#eab8a0"},{"offset":1,"color":"#b9aca4"}]}},"encoding":{"order":{"field":"i","type":"quantitative"}}},
{"data":{"name":"polys"},"transform":[{"filter":"datum.p=='b_lh'"}],"mark":{"type":"line","strokeWidth":0,"fill":"rgba(195,100,70,0.8)"},"encoding":{"order":{"field":"i","type":"quantitative"}}},
{"data":{"name":"polys"},"transform":[{"filter":"datum.p=='b_pale'"}],"mark":{"type":"line","strokeWidth":0,"fill":"#eeb9a2"},"encoding":{"order":{"field":"i","type":"quantitative"}}},
{"data":{"name":"polys"},"transform":[{"filter":"datum.p=='b_lobe'"}],"mark":{"type":"line","strokeWidth":0,"fill":"rgba(190,80,60,0.7)"},"encoding":{"order":{"field":"i","type":"quantitative"}}},
{"data":{"name":"polys"},"transform":[{"filter":"datum.p=='b_wing'"}],"mark":{"type":"line","strokeWidth":0,"fill":"#ff0000","interpolate":"catmull-rom"},"encoding":{"order":{"field":"i","type":"quantitative"}}},
{"data":{"name":"polys"},"transform":[{"filter":"datum.p=='b_ring'"}],"mark":{"type":"line","strokeWidth":0,"fill":"#ff0000","interpolate":"catmull-rom"},"encoding":{"order":{"field":"i","type":"quantitative"}}},
{"data":{"name":"polys"},"transform":[{"filter":"datum.p=='b_tint'"}],"mark":{"type":"line","strokeWidth":0,"fill":"rgba(255,110,20,0.3)"},"encoding":{"order":{"field":"i","type":"quantitative"}}},
{"data":{"name":"polys"},"transform":[{"filter":"datum.p=='b_front'"}],"mark":{"type":"line","strokeWidth":0,"fill":"#e5b29c"},"encoding":{"order":{"field":"i","type":"quantitative"}}},
{"data":{"name":"polys"},"transform":[{"filter":"datum.p=='b_dark'"}],"mark":{"type":"line","strokeWidth":0,"fill":{"gradient":"linear","x1":0,"y1":0,"x2":1,"y2":0,"stops":[{"offset":0,"color":"rgba(90,40,10,0)"},{"offset":0.2,"color":"rgba(90,40,10,0)"},{"offset":0.34,"color":"rgba(100,40,10,0.6)"},{"offset":1,"color":"rgba(120,20,0,0.38)"}]}},"encoding":{"order":{"field":"i","type":"quantitative"}}},
{"data":{"name":"box"},"mark":{"type":"line","stroke":"#8c8c8c","strokeWidth":1.2},"encoding":{"detail":{"field":"p"},"order":{"field":"i","type":"quantitative"}}},
{"data":{"name":"red"},"mark":{"type":"line","stroke":"#f00000","strokeWidth":1.7,"interpolate":"catmull-rom"},"encoding":{"detail":{"field":"p"},"order":{"field":"i","type":"quantitative"}}},
{"data":{"name":"white"},"mark":{"type":"line","stroke":"#ffffff","strokeWidth":0.9,"strokeDash":[9,4,2,5],"strokeOpacity":0.85,"interpolate":"catmull-rom"},"encoding":{"detail":{"field":"p"},"order":{"field":"i","type":"quantitative"}}},
{"data":{"name":"thin"},"mark":{"type":"line","stroke":"rgba(100,35,10,0.75)","strokeWidth":0.8,"interpolate":"catmull-rom"},"encoding":{"detail":{"field":"p"},"order":{"field":"i","type":"quantitative"}}},
{"data":{"name":"spike"},"mark":{"type":"line","stroke":"rgba(80,30,10,0.7)","strokeWidth":2,"strokeCap":"round"},"encoding":{"detail":{"field":"p"},"order":{"field":"i","type":"quantitative"}}},
{"data":{"name":"black"},"mark":{"type":"line","stroke":"#2b2020","strokeWidth":1.15,"interpolate":"catmull-rom"},"encoding":{"detail":{"field":"p"},"order":{"field":"i","type":"quantitative"}}},
{"data":{"name":"axis"},"mark":{"type":"line","stroke":"#2b2020","strokeWidth":1.2},"encoding":{"detail":{"field":"p"},"order":{"field":"i","type":"quantitative"}}},
{"data":{"name":"ticks"},"mark":{"type":"rule","stroke":"#2b2b2b","strokeWidth":0.9},"encoding":{"x2":{"field":"x2"},"y2":{"field":"y2"}}},
{"data":{"name":"labels"},"mark":{"type":"text","font":"Liberation Serif","fontSize":13,"fill":"#333333","align":"center","baseline":"middle"},"encoding":{"text":{"field":"t"}}},
{"data":{"name":"captions"},"mark":{"type":"text","font":"Liberation Serif","fontSize":15,"fill":"#000000","align":"center","baseline":"middle"},"encoding":{"text":{"field":"t"}}},
{"data":{"name":"dots"},"mark":{"type":"point","filled":true,"size":150,"opacity":1,"fill":{"gradient":"radial","x1":0.5,"y1":0.5,"r1":0,"x2":0.5,"y2":0.5,"r2":0.5,"stops":[{"offset":0,"color":"#3fdc14"},{"offset":0.7,"color":"#48c81c"},{"offset":1,"color":"#6aa830"}]}}}
]}
